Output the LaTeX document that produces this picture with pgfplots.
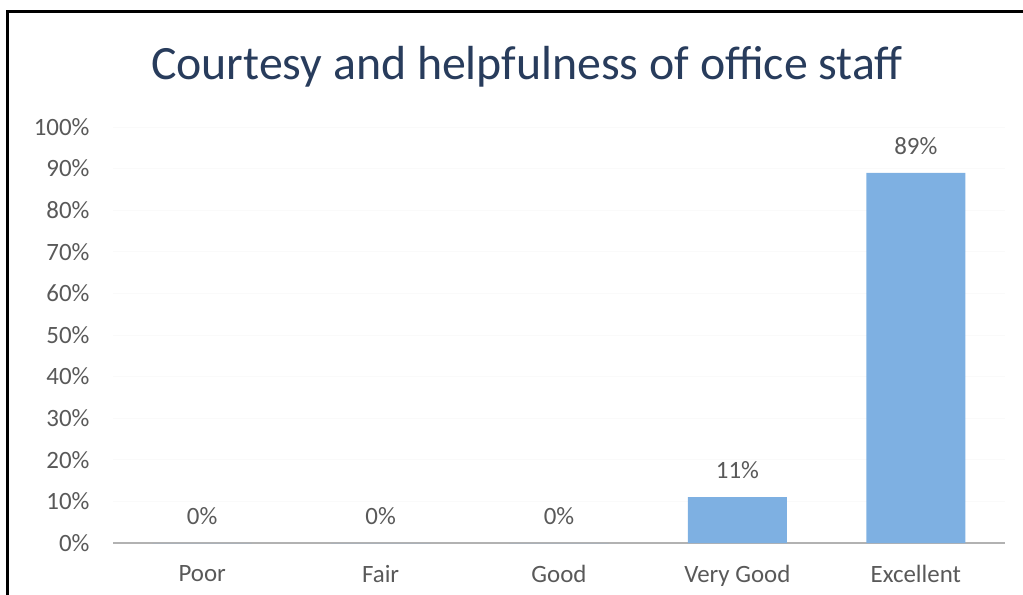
\documentclass[border=0pt]{standalone}
\usepackage{pgfplots}
\pgfplotsset{compat=1.18}
\usepackage{fontspec}
\setmainfont{Carlito}
\definecolor{barblue}{RGB}{126,176,226}
\definecolor{titleblue}{RGB}{40,60,92}
\definecolor{ticgray}{RGB}{89,89,89}
\begin{document}
\begin{tikzpicture}
\useasboundingbox (0bp,0bp) rectangle (1023bp,595bp);
\draw[line width=3bp, black] (7bp,0bp) -- (7bp,583bp) -- (1023bp,583bp);
\node[text=titleblue, font=\fontsize{48}{56}\selectfont] at (527bp,528bp) {Courtesy and helpfulness of office staff};
\begin{axis}[
  at={(113bp,52bp)}, anchor=south west,
  scale only axis,
  width=892bp, height=416bp,
  xmin=-0.5, xmax=4.5, ymin=0, ymax=100,
  ytick={0,10,...,100},
  yticklabel={\pgfmathprintnumber{\tick}\%},
  xtick=data,
  xticklabels={Poor,Fair,Good,Very Good,Excellent},
  /pgf/number format/assume math mode=true,
  ticklabel style={font=\fontsize{25}{28}\selectfont, text=ticgray},
  major tick length=0pt,
  yticklabel style={xshift=-20bp},
  xticklabel style={yshift=-19bp},
  axis x line*=bottom, axis y line*=left,
  y axis line style={draw=none},
  x axis line style={draw=gray!60, line width=1.5bp, -},
  ymajorgrids, grid style={draw=gray!4, line width=0.8bp},
  ybar, bar width=99bp,
  nodes near coords={\pgfmathprintnumber{\pgfplotspointmeta}\%},
  every node near coord/.append style={font=\fontsize{25}{28}\selectfont, text=ticgray, yshift=15bp},
  clip=false,
]
\addplot[fill=barblue, draw=none] coordinates {(0,0) (1,0) (2,0) (3,11) (4,89)};
\end{axis}
\end{tikzpicture}
\end{document}
